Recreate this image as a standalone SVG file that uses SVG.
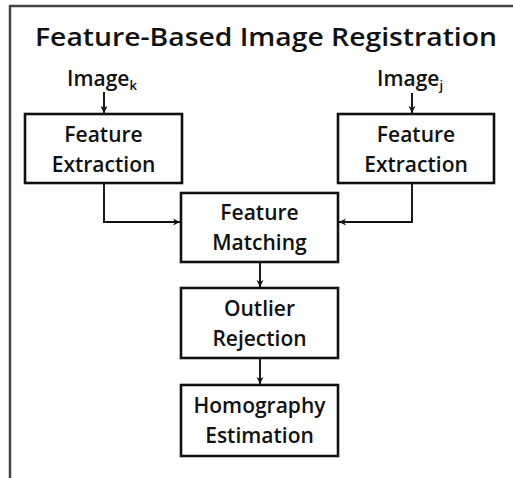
<svg xmlns="http://www.w3.org/2000/svg" width="513" height="478" viewBox="0 0 513 478">
<style>
text{font-family:"Open Sans","Noto Sans",sans-serif;font-weight:600;fill:#111;text-anchor:middle}
.t{font-size:21px}
.title{font-size:25px}
.box{fill:#fff;stroke:#111;stroke-width:2.6}
.c{fill:none;stroke:#111;stroke-width:1.9}
</style>
<defs>
<marker id="ah" markerWidth="8" markerHeight="8" refX="7" refY="4" orient="auto" markerUnits="userSpaceOnUse">
<path d="M0,0.5 L7,4 L0,7.5 L2,4 Z" fill="#111"/>
</marker>
</defs>
<rect x="0" y="0" width="513" height="478" fill="#fff"/>
<path d="M10,478 L10,6 L513,6" fill="none" stroke="#444" stroke-width="2.5"/>
<text class="title" x="266" y="46" textLength="462" lengthAdjust="spacingAndGlyphs">Feature-Based Image Registration</text>
<g id="connectors">
<line class="c" x1="104" y1="92" x2="104" y2="113" marker-end="url(#ah)"/>
<line class="c" x1="412" y1="93" x2="412" y2="113" marker-end="url(#ah)"/>
<polyline class="c" points="104,183 104,222 180,222" marker-end="url(#ah)"/>
<polyline class="c" points="412,183 412,222 339,222" marker-end="url(#ah)"/>
<line class="c" x1="260" y1="262" x2="260" y2="287" marker-end="url(#ah)"/>
<line class="c" x1="260" y1="358" x2="260" y2="384" marker-end="url(#ah)"/>
</g>
<g id="image-k"><text class="t" x="102" y="86">Image<tspan font-size="13" dy="4">k</tspan></text></g>
<g id="image-j"><text class="t" x="410" y="86">Image<tspan font-size="13" dy="4">j</tspan></text></g>
<g id="fe-left">
<rect class="box" x="25" y="114" width="157" height="69"/>
<text class="t" x="103.5" y="142">Feature</text>
<text class="t" x="103.5" y="172">Extraction</text>
</g>
<g id="fe-right">
<rect class="box" x="338" y="114" width="156" height="69"/>
<text class="t" x="416" y="142">Feature</text>
<text class="t" x="416" y="172">Extraction</text>
</g>
<g id="fm">
<rect class="box" x="181" y="193" width="157" height="69"/>
<text class="t" x="259.5" y="220">Feature</text>
<text class="t" x="259.5" y="250">Matching</text>
</g>
<g id="or">
<rect class="box" x="181" y="288" width="157" height="70"/>
<text class="t" x="259.5" y="316">Outlier</text>
<text class="t" x="259.5" y="346">Rejection</text>
</g>
<g id="he">
<rect class="box" x="181" y="385" width="157" height="71"/>
<text class="t" x="259.5" y="413">Homography</text>
<text class="t" x="259.5" y="443">Estimation</text>
</g>
</svg>
